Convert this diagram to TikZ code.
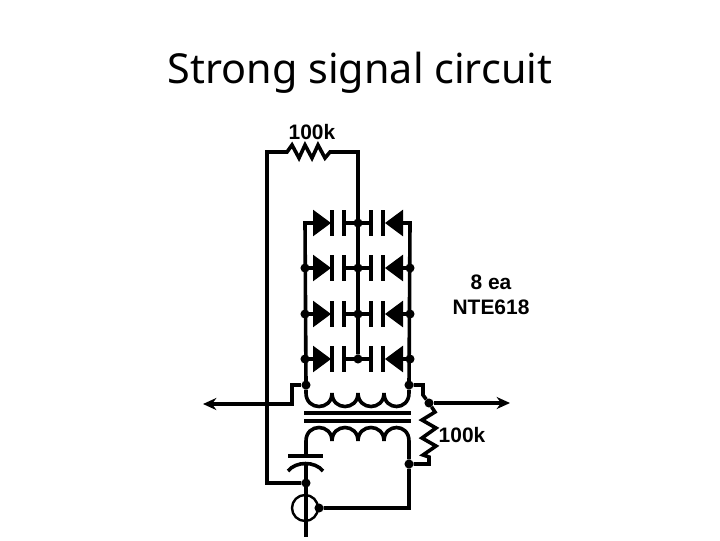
\documentclass[tikz,border=0pt]{standalone}
\usepackage{fontspec}
\setmainfont{Liberation Sans}
\newfontfamily\titlefont{Noto Sans}
\usetikzlibrary{arrows.meta,shapes.geometric}
\begin{document}
\begin{tikzpicture}[x=.75pt, y=-.75pt, line width=2.7pt, line join=miter,
dot node/.style={circle,fill=black,minimum size=6.8pt,inner sep=0pt,outer sep=0pt},
plate node/.style={rectangle,fill=black,minimum width=2.8pt,minimum height=20pt,inner sep=0pt,outer sep=0pt},
diode right/.style={isosceles triangle,isosceles triangle stretches,fill=black,minimum width=20pt,minimum height=13.5pt,inner sep=0pt,outer sep=0pt,anchor=apex},
diode left/.style={diode right,shape border rotate=180},
label node/.style={font=\bfseries\fontsize{15.7}{18}\selectfont,inner sep=0pt},
core line/.style={line width=2.8pt},
out arrow/.style={-{Stealth[length=10pt,width=9pt]},line width=2.4pt}]
\useasboundingbox (0,0) rectangle (720,540);
\begin{scope}
\node (title) at (360,73) {\titlefont\fontsize{31}{38}\selectfont Strong signal circuit};
\node[label node] (l1) at (312,132) {100k};
\node[label node] (l2) at (462,435) {100k};
\node[label node] (l3) at (491,282) {8 ea};
\node[label node] (l4) at (491,307) {NTE618};
\end{scope}
\begin{scope}
\node[diode right] (d1a) at (331,223) {};
\node[diode right] (d2a) at (331,268) {};
\node[diode right] (d3a) at (331,314) {};
\node[diode right] (d4a) at (331,359) {};
\node[diode left] (d1b) at (385,223) {};
\node[diode left] (d2b) at (385,268) {};
\node[diode left] (d3b) at (385,314) {};
\node[diode left] (d4b) at (385,359) {};
\node[plate node] (k1a) at (332,223) {};
\node[plate node] (k2a) at (332,268) {};
\node[plate node] (k3a) at (332,314) {};
\node[plate node] (k4a) at (332,359) {};
\node[plate node] (k1b) at (383,223) {};
\node[plate node] (k2b) at (383,268) {};
\node[plate node] (k3b) at (383,314) {};
\node[plate node] (k4b) at (383,359) {};
\node[plate node] (p1a) at (344,223) {};
\node[plate node] (p2a) at (344,268) {};
\node[plate node] (p3a) at (344,314) {};
\node[plate node] (p4a) at (344,359) {};
\node[plate node] (p1b) at (371,223) {};
\node[plate node] (p2b) at (371,268) {};
\node[plate node] (p3b) at (371,314) {};
\node[plate node] (p4b) at (371,359) {};
\coordinate (v1) at (305,223);
\node[dot node] (v2) at (305,268) {};
\node[dot node] (v3) at (305,314) {};
\node[dot node] (v4) at (305,359) {};
\node[dot node] (v5) at (306,385) {};
\coordinate (w1) at (410,223);
\node[dot node] (w2) at (410,268) {};
\node[dot node] (w3) at (410,314) {};
\node[dot node] (w4) at (410,359) {};
\node[dot node] (w5) at (409,385) {};
\node[dot node] (m1) at (358,223) {};
\node[dot node] (m2) at (358,268) {};
\node[dot node] (m3) at (358,314) {};
\node[dot node] (m4) at (358,359) {};
\node[dot node] (r1) at (429,403) {};
\node[dot node] (r2) at (409,464) {};
\node[dot node] (g1) at (306,483) {};
\node[dot node] (g2) at (319,508) {};
\node[circle,draw,line width=1.8pt,minimum size=19.5pt,inner sep=0pt] (src) at (305,508) {};
\coordinate (t1) at (267,152);
\coordinate (t2) at (287,152);
\coordinate (t3) at (330,152);
\coordinate (t4) at (358,152);
\coordinate (a1) at (292,385);
\coordinate (a2) at (292,404);
\coordinate (atip) at (203,404);
\coordinate (b1) at (423,385);
\coordinate (b2) at (423,395);
\coordinate (btip) at (510,403);
\coordinate (c1) at (306,441);
\coordinate (c2) at (306,456);
\coordinate (c3) at (306,463);
\coordinate (c4) at (306,537);
\coordinate (e1) at (409,441);
\coordinate (e2) at (409,508);
\coordinate (f1) at (429,457);
\coordinate (f2) at (429,464);
\end{scope}
\begin{scope}
% feedback resistor and bias line
\draw (g1) -| (t1) -- (t2) -- (292,145) -- (299,158) -- (305,145) -- (312,158) -- (318,145) -- (325,158) -- (t3) -- (t4) -- (m4);
% diode rows
\draw (v5.center) -- (v1) -- (d1a.center);
\draw (w5.center) -- (w1) -- (d1b.center);
\draw (v2.center) -- (d2a.center);
\draw (v3.center) -- (d3a.center);
\draw (v4.center) -- (d4a.center);
\draw (w2.center) -- (d2b.center);
\draw (w3.center) -- (d3b.center);
\draw (w4.center) -- (d4b.center);
\draw (p1a) -- (p1b);
\draw (p2a) -- (p2b);
\draw (p3a) -- (p3b);
\draw (p4a) -- (p4b);
% output leads
\draw[out arrow] (v5) -- (a1) -- (a2) -- (atip);
\draw (w5) -- (b1) -- (b2) -- (r1);
\draw[out arrow] (r1) -- (btip);
\draw (r1) -- (435,412) -- (422,420) -- (436,428) -- (422,438) -- (436,446) -- (423,455) -- (f1) -- (f2) -- (r2);
% transformer
\draw (v5) -- (306,393) .. controls (306,411) and (332,411) .. (332,393) .. controls (332,411) and (358,411) .. (358,393) .. controls (358,411) and (384,411) .. (384,393) .. controls (384,411) and (409,411) .. (409,393) -- (w5);
\draw[core line] (304,413) -- (411,413);
\draw[core line] (304,421) -- (411,421);
\draw (c1) .. controls (306,423) and (332,423) .. (332,441) .. controls (332,423) and (358,423) .. (358,441) .. controls (358,423) and (384,423) .. (384,441) .. controls (384,423) and (409,423) .. (e1) -- (r2) -- (e2) -- (g2);
% tuning capacitor and source
\draw (c1) -- (c2);
\draw (288,456) -- (323,456);
\draw (288,471) .. controls (296,461) and (315,461) .. (323,471);
\draw (c3) -- (c4);
\end{scope}
\end{tikzpicture}
\end{document}
